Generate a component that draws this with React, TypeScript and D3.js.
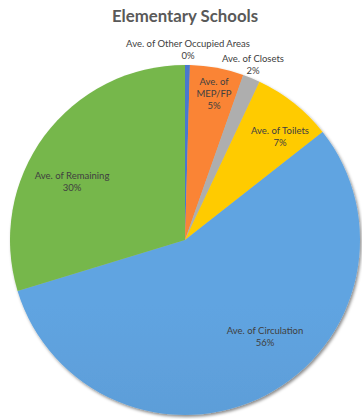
import React from "react";
import * as d3 from "d3";

const title = "Elementary Schools";
const categories = [
  "Ave. of Other Occupied Areas",
  "Ave. of MEP/FP",
  "Ave. of Closets",
  "Ave. of Toilets",
  "Ave. of Circulation",
  "Ave. of Remaining",
];
const values = [0.45, 4.95, 1.6, 7.4, 55.9, 29.7];
const percentLabels = ["0%", "5%", "2%", "7%", "56%", "30%"];
const colors = ["#4472C4", "#ED7D31", "#A5A5A5", "#FFC000", "#5B9BD5", "#70AD47"];

// label layout: lines and position relative to pie centre (layout, not data)
const labelLines = [
  [categories[0], percentLabels[0]],
  ["Ave. of", "MEP/FP", percentLabels[1]],
  [categories[2], percentLabels[2]],
  [categories[3], percentLabels[3]],
  [categories[4], percentLabels[4]],
  [categories[5], percentLabels[5]],
];
const labelOffsets: [number, number][] = [
  [3, -191],
  [29, -147],
  [68, -176],
  [95, -104],
  [80, 96],
  [-113, -59],
];

export default function App() {
  const W = 362, H = 419;
  const cx = 185, cy = 240, R = 175;
  const pie = d3.pie<number>().sort(null).value((d) => d);
  const arcs = pie(values);
  const arc = d3.arc<d3.PieArcDatum<number>>().innerRadius(0).outerRadius(R);
  const lineH = 12;
  return (
    <svg width={W} height={H} style={{ position: "absolute", left: 0, top: 0, background: "#fff" }}
      fontFamily="Lato, 'Open Sans', sans-serif">
      <defs>
        {colors.map((c, i) => {
          const top = d3.color(c)!.brighter(0.15).formatHex();
          const bot = d3.color(c)!.darker(0.2).formatHex();
          return (
            <linearGradient key={i} id={`g${i}`} gradientUnits="userSpaceOnUse" x1={0} y1={cy - R} x2={0} y2={cy + R}>
              <stop offset="0" stopColor={top} />
              <stop offset="1" stopColor={bot} />
            </linearGradient>
          );
        })}
        <filter id="sh" x="-10%" y="-10%" width="120%" height="120%">
          <feDropShadow dx="1.5" dy="2" stdDeviation="1.6" floodColor="#000" floodOpacity="0.45" />
        </filter>
      </defs>
      <text x={cx} y={22} textAnchor="middle" fontSize={16.8} fontWeight="bold" fill="#595959">{title}</text>
      <g transform={`translate(${cx},${cy})`}>
        <g filter="url(#sh)">
          {arcs.map((a, i) => (
            <path key={i} d={arc(a) || ""} fill={`url(#g${i})`} />
          ))}
        </g>
        {labelLines.map((lines, i) => {
          const [ox, oy] = labelOffsets[i];
          const y0 = oy - ((lines.length - 1) * lineH) / 2;
          return (
            <text key={i} textAnchor="middle" fontSize={9.5} fill="#404040">
              {lines.map((l, j) => (
                <tspan key={j} x={ox} y={y0 + j * lineH + 3.5}>{l}</tspan>
              ))}
            </text>
          );
        })}
      </g>
    </svg>
  );
}
